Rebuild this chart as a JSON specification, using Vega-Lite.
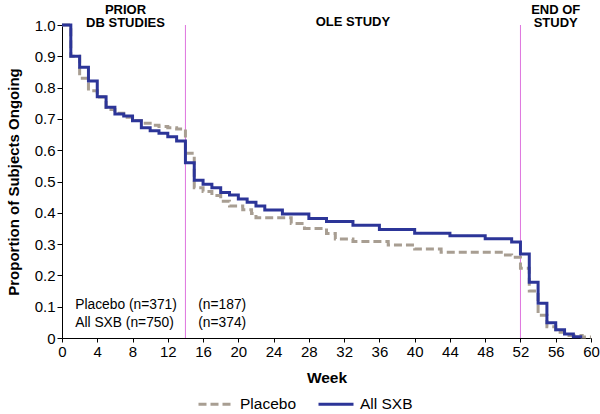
{
  "$schema": "https://vega.github.io/schema/vega-lite/v6.json",
  "width": 529,
  "height": 313,
  "autosize": {"type": "none"},
  "padding": {"left": 62, "top": 25, "right": 9, "bottom": 76},
  "background": "white",
  "config": {
    "view": {"stroke": null},
    "font": "Liberation Sans",
    "axis": {"grid": false, "domainColor": "black", "tickColor": "black", "labelColor": "black", "titleColor": "black", "labelFont": "Liberation Sans", "titleFont": "Liberation Sans", "labelOverlap": false}
  },
  "datasets": {
    "curves": [
      {"week": 0, "value": 1.0, "group": "Placebo"},
      {"week": 1, "value": 0.90, "group": "Placebo"},
      {"week": 2, "value": 0.83, "group": "Placebo"},
      {"week": 3, "value": 0.79, "group": "Placebo"},
      {"week": 4, "value": 0.77, "group": "Placebo"},
      {"week": 5, "value": 0.73, "group": "Placebo"},
      {"week": 6, "value": 0.718, "group": "Placebo"},
      {"week": 7, "value": 0.705, "group": "Placebo"},
      {"week": 8, "value": 0.695, "group": "Placebo"},
      {"week": 9, "value": 0.686, "group": "Placebo"},
      {"week": 10, "value": 0.68, "group": "Placebo"},
      {"week": 11, "value": 0.676, "group": "Placebo"},
      {"week": 12, "value": 0.672, "group": "Placebo"},
      {"week": 13, "value": 0.668, "group": "Placebo"},
      {"week": 14, "value": 0.59, "group": "Placebo"},
      {"week": 15, "value": 0.48, "group": "Placebo"},
      {"week": 16, "value": 0.468, "group": "Placebo"},
      {"week": 17, "value": 0.455, "group": "Placebo"},
      {"week": 18, "value": 0.437, "group": "Placebo"},
      {"week": 19, "value": 0.422, "group": "Placebo"},
      {"week": 20.5, "value": 0.41, "group": "Placebo"},
      {"week": 21.5, "value": 0.398, "group": "Placebo"},
      {"week": 22, "value": 0.384, "group": "Placebo"},
      {"week": 26, "value": 0.366, "group": "Placebo"},
      {"week": 27.5, "value": 0.35, "group": "Placebo"},
      {"week": 30, "value": 0.334, "group": "Placebo"},
      {"week": 31, "value": 0.316, "group": "Placebo"},
      {"week": 33, "value": 0.308, "group": "Placebo"},
      {"week": 37, "value": 0.297, "group": "Placebo"},
      {"week": 40, "value": 0.284, "group": "Placebo"},
      {"week": 43, "value": 0.274, "group": "Placebo"},
      {"week": 50, "value": 0.265, "group": "Placebo"},
      {"week": 51, "value": 0.258, "group": "Placebo"},
      {"week": 52, "value": 0.223, "group": "Placebo"},
      {"week": 53, "value": 0.15, "group": "Placebo"},
      {"week": 54, "value": 0.073, "group": "Placebo"},
      {"week": 55, "value": 0.036, "group": "Placebo"},
      {"week": 56, "value": 0.018, "group": "Placebo"},
      {"week": 57, "value": 0.008, "group": "Placebo"},
      {"week": 59, "value": 0.003, "group": "Placebo"},
      {"week": 60, "value": 0.003, "group": "Placebo"},
      {"week": 0, "value": 1.0, "group": "All SXB"},
      {"week": 1, "value": 0.90, "group": "All SXB"},
      {"week": 2, "value": 0.865, "group": "All SXB"},
      {"week": 3, "value": 0.821, "group": "All SXB"},
      {"week": 4, "value": 0.771, "group": "All SXB"},
      {"week": 5, "value": 0.737, "group": "All SXB"},
      {"week": 6, "value": 0.716, "group": "All SXB"},
      {"week": 7, "value": 0.709, "group": "All SXB"},
      {"week": 8, "value": 0.694, "group": "All SXB"},
      {"week": 9, "value": 0.672, "group": "All SXB"},
      {"week": 10, "value": 0.662, "group": "All SXB"},
      {"week": 11, "value": 0.654, "group": "All SXB"},
      {"week": 12, "value": 0.643, "group": "All SXB"},
      {"week": 13, "value": 0.629, "group": "All SXB"},
      {"week": 14, "value": 0.56, "group": "All SXB"},
      {"week": 15, "value": 0.504, "group": "All SXB"},
      {"week": 16, "value": 0.491, "group": "All SXB"},
      {"week": 17, "value": 0.48, "group": "All SXB"},
      {"week": 18, "value": 0.465, "group": "All SXB"},
      {"week": 19, "value": 0.457, "group": "All SXB"},
      {"week": 20, "value": 0.444, "group": "All SXB"},
      {"week": 21, "value": 0.434, "group": "All SXB"},
      {"week": 22, "value": 0.422, "group": "All SXB"},
      {"week": 23, "value": 0.409, "group": "All SXB"},
      {"week": 25, "value": 0.396, "group": "All SXB"},
      {"week": 28, "value": 0.382, "group": "All SXB"},
      {"week": 30, "value": 0.372, "group": "All SXB"},
      {"week": 33, "value": 0.36, "group": "All SXB"},
      {"week": 36, "value": 0.347, "group": "All SXB"},
      {"week": 40, "value": 0.335, "group": "All SXB"},
      {"week": 44, "value": 0.327, "group": "All SXB"},
      {"week": 48, "value": 0.317, "group": "All SXB"},
      {"week": 51, "value": 0.307, "group": "All SXB"},
      {"week": 52, "value": 0.268, "group": "All SXB"},
      {"week": 53, "value": 0.178, "group": "All SXB"},
      {"week": 54, "value": 0.111, "group": "All SXB"},
      {"week": 55, "value": 0.049, "group": "All SXB"},
      {"week": 56, "value": 0.026, "group": "All SXB"},
      {"week": 57, "value": 0.013, "group": "All SXB"},
      {"week": 58, "value": 0.004, "group": "All SXB"},
      {"week": 59, "value": 0.004, "group": "All SXB"}
    ],
    "phases": [{"week": 14}, {"week": 52}],
    "heads": [
      {"week": 7.2, "value": 1.047, "label": "PRIOR\nDB STUDIES"},
      {"week": 33, "value": 1.009, "label": "OLE STUDY"},
      {"week": 56, "value": 1.047, "label": "END OF\nSTUDY"}
    ],
    "notes": [
      {"week": 1.5, "value": 0.105, "label": "Placebo (n=371)"},
      {"week": 1.5, "value": 0.049, "label": "All SXB (n=750)"},
      {"week": 15.45, "value": 0.105, "label": "(n=187)"},
      {"week": 15.45, "value": 0.049, "label": "(n=374)"}
    ]
  },
  "layer": [
    {
      "data": {"name": "phases"},
      "mark": {"type": "rule", "color": "#de74de", "strokeWidth": 1},
      "encoding": {
        "x": {
          "field": "week", "type": "quantitative",
          "scale": {"domain": [0, 60], "nice": false},
          "axis": {"values": [0,4,8,12,16,20,24,28,32,36,40,44,48,52,56,60], "labelOverlap": false, "title": "Week", "titleFontSize": 15.5, "titleFontWeight": "bold", "titlePadding": 11, "labelFontSize": 15, "tickSize": 4, "labelPadding": 2, "labelFlush": false}
        }
      }
    },
    {
      "data": {"name": "curves"},
      "mark": {"type": "line", "interpolate": "step-after", "strokeWidth": 3},
      "encoding": {
        "x": {
          "field": "week", "type": "quantitative",
          "scale": {"domain": [0, 60], "nice": false},
          "axis": {"values": [0,4,8,12,16,20,24,28,32,36,40,44,48,52,56,60], "labelOverlap": false, "title": "Week", "titleFontSize": 15.5, "titleFontWeight": "bold", "titlePadding": 11, "labelFontSize": 15, "tickSize": 4, "labelPadding": 2, "labelFlush": false}
        },
        "y": {
          "field": "value", "type": "quantitative",
          "scale": {"domain": [0, 1], "nice": false},
          "axis": {"values": [0,0.1,0.2,0.3,0.4,0.5,0.6,0.7,0.8,0.9,1.0], "labelOverlap": false, "labelExpr": "datum.value == 0 ? '0' : format(datum.value, '.1f')", "title": "Proportion of Subjects Ongoing", "titleFontSize": 15, "titleFontWeight": "bold", "titlePadding": 13, "labelFontSize": 15, "tickSize": 5, "labelPadding": 2, "labelFlush": false}
        },
        "color": {
          "field": "group", "type": "nominal",
          "scale": {"domain": ["Placebo", "All SXB"], "range": ["#a89e92", "#2c3598"]},
          "legend": {"title": null, "orient": "none", "direction": "horizontal", "legendX": 135, "legendY": 360, "symbolType": "stroke", "symbolSize": 1225, "symbolStrokeWidth": 3, "labelFontSize": 15.5, "labelFont": "Liberation Sans", "labelColor": "black", "labelOffset": 5, "columnPadding": 15, "padding": 0}
        },
        "strokeDash": {
          "field": "group", "type": "nominal",
          "scale": {"domain": ["Placebo", "All SXB"], "range": [[8, 4], [1, 0]]},
          "legend": {"title": null, "orient": "none", "direction": "horizontal", "legendX": 135, "legendY": 360, "symbolType": "stroke", "symbolSize": 1225, "symbolStrokeWidth": 3, "labelFontSize": 15.5, "labelFont": "Liberation Sans", "labelColor": "black", "labelOffset": 5, "columnPadding": 15, "padding": 0}
        }
      }
    },
    {
      "data": {"name": "heads"},
      "mark": {"type": "text", "font": "Liberation Sans", "fontSize": 13, "fontWeight": "bold", "align": "center", "baseline": "middle", "lineBreak": "\n", "lineHeight": 13, "color": "black"},
      "encoding": {
        "x": {
          "field": "week", "type": "quantitative",
          "scale": {"domain": [0, 60], "nice": false},
          "axis": {"values": [0,4,8,12,16,20,24,28,32,36,40,44,48,52,56,60], "labelOverlap": false, "title": "Week", "titleFontSize": 15.5, "titleFontWeight": "bold", "titlePadding": 11, "labelFontSize": 15, "tickSize": 4, "labelPadding": 2, "labelFlush": false}
        },
        "y": {
          "field": "value", "type": "quantitative",
          "scale": {"domain": [0, 1], "nice": false},
          "axis": {"values": [0,0.1,0.2,0.3,0.4,0.5,0.6,0.7,0.8,0.9,1.0], "labelOverlap": false, "labelExpr": "datum.value == 0 ? '0' : format(datum.value, '.1f')", "title": "Proportion of Subjects Ongoing", "titleFontSize": 15, "titleFontWeight": "bold", "titlePadding": 13, "labelFontSize": 15, "tickSize": 5, "labelPadding": 2, "labelFlush": false}
        },
        "text": {"field": "label"}
      }
    },
    {
      "data": {"name": "notes"},
      "mark": {"type": "text", "font": "Liberation Sans", "fontSize": 13.8, "align": "left", "baseline": "middle", "color": "black"},
      "encoding": {
        "x": {
          "field": "week", "type": "quantitative",
          "scale": {"domain": [0, 60], "nice": false},
          "axis": {"values": [0,4,8,12,16,20,24,28,32,36,40,44,48,52,56,60], "labelOverlap": false, "title": "Week", "titleFontSize": 15.5, "titleFontWeight": "bold", "titlePadding": 11, "labelFontSize": 15, "tickSize": 4, "labelPadding": 2, "labelFlush": false}
        },
        "y": {
          "field": "value", "type": "quantitative",
          "scale": {"domain": [0, 1], "nice": false},
          "axis": {"values": [0,0.1,0.2,0.3,0.4,0.5,0.6,0.7,0.8,0.9,1.0], "labelOverlap": false, "labelExpr": "datum.value == 0 ? '0' : format(datum.value, '.1f')", "title": "Proportion of Subjects Ongoing", "titleFontSize": 15, "titleFontWeight": "bold", "titlePadding": 13, "labelFontSize": 15, "tickSize": 5, "labelPadding": 2, "labelFlush": false}
        },
        "text": {"field": "label"}
      }
    }
  ]
}
